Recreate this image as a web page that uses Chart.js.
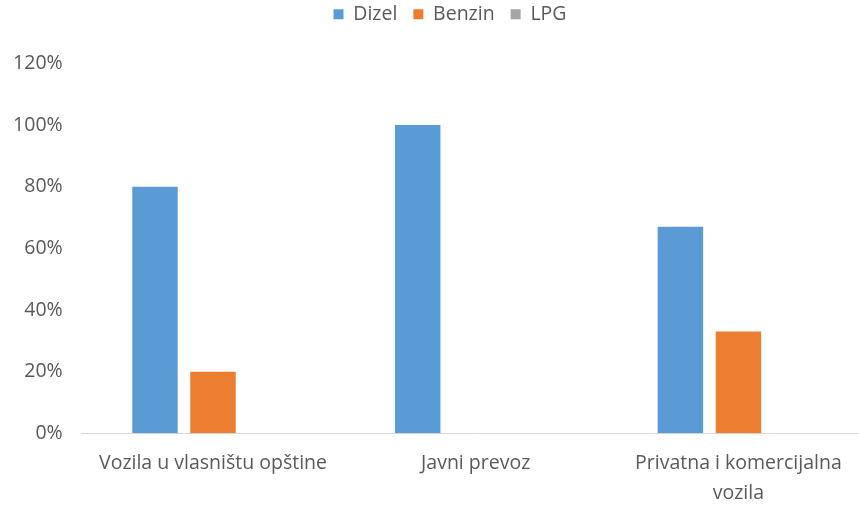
<!DOCTYPE html>
<html>
<head>
<meta charset="utf-8">
<script src="https://cdn.jsdelivr.net/npm/chart.js@4/dist/chart.umd.min.js"></script>
<style>
  html, body { margin: 0; padding: 0; overflow: hidden; background: #ffffff; }
  #wrap { position: relative; width: 900px; height: 506px; }
</style>
</head>
<body>
<div id="wrap"><canvas id="c"></canvas></div>
<script>
// Fuel type share by vehicle group (percent)
const categories = [
  'Vozila u vlasništu opštine',
  'Javni prevoz',
  ['Privatna i komercijalna', 'vozila']
];
const dizel  = [80, 100, 67];
const benzin = [20, 0, 33];
const lpg    = [0, 0, 0];
const yTicks = [0, 20, 40, 60, 80, 100, 120];

const textColor = '#595959';
const font = { family: '"Open Sans", Lato, sans-serif', size: 19.5 };

// Fixes the legend band height so the plot starts where it should
const legendHeight = {
  id: 'legendHeight',
  beforeInit(chart) {
    const lg = chart.legend;
    if (!lg) return;
    const fit = lg.fit.bind(lg);
    lg.fit = function () { fit(); this.height = 74.8; };
  }
};

new Chart(document.getElementById('c'), {
  type: 'bar',
  data: {
    labels: categories,
    datasets: [
      { label: 'Dizel',  data: dizel,  backgroundColor: '#5B9BD5' },
      { label: 'Benzin', data: benzin, backgroundColor: '#ED7D31' },
      { label: 'LPG',    data: lpg,    backgroundColor: '#A5A5A5' }
    ]
  },
  options: {
    responsive: true,
    maintainAspectRatio: false,
    animation: false,
    layout: { padding: { left: 0, right: 0, top: -11.5, bottom: 0 } },
    datasets: { bar: { categoryPercentage: 0.6624, barPercentage: 0.784, borderWidth: 0 } },
    plugins: {
      tooltip: { enabled: false },
      legend: {
        position: 'top',
        align: 'center',
        labels: {
          boxWidth: 10,
          boxHeight: 10,
          padding: 16,
          color: textColor,
          font: font
        }
      }
    },
    scales: {
      x: {
        grid: { display: false, drawTicks: false },
        border: { display: true, color: '#D9D9D9', width: 1 },
        ticks: {
          color: textColor,
          font: Object.assign({}, font, { lineHeight: 1.54 }),
          padding: 15,
          maxRotation: 0,
          autoSkip: false
        },
        afterFit(scale) { scale.height = 72.7; }
      },
      y: {
        min: 0,
        max: 120,
        grid: { display: false, drawTicks: false },
        border: { display: false },
        afterBuildTicks(scale) { scale.ticks = yTicks.map(v => ({ value: v })); },
        ticks: {
          color: textColor,
          font: font,
          padding: 19,
          callback: v => v + '%'
        },
        afterFit(scale) { scale.width = 81.65; }
      },
      // blank right margin of the plot area
      yRight: {
        position: 'right',
        min: 0,
        max: 120,
        grid: { display: false, drawTicks: false },
        border: { display: false },
        ticks: { display: false },
        afterFit(scale) { scale.width = 30.25; }
      }
    }
  },
  plugins: [legendHeight]
});
</script>
</body>
</html>
